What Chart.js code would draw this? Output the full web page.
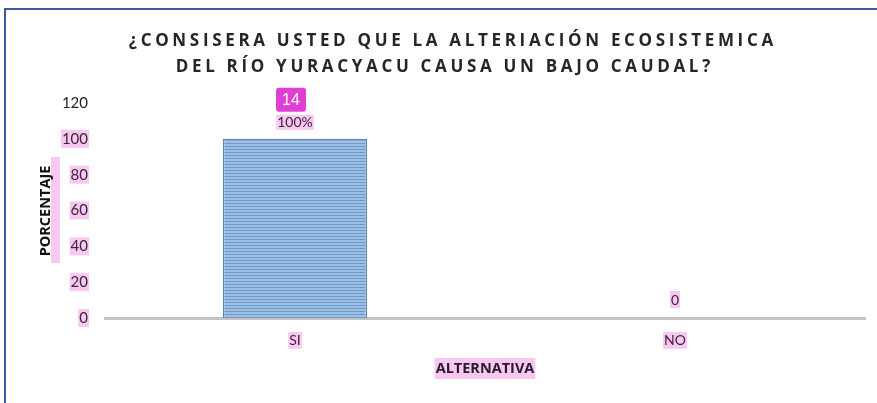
<!DOCTYPE html>
<html>
<head>
<meta charset="utf-8">
<script src="https://cdn.jsdelivr.net/npm/chart.js@4.4.0/dist/chart.umd.min.js"></script>
<style>
  html, body { margin: 0; padding: 0; background: #fff; }
  #wrap { width: 877px; height: 403px; }
</style>
</head>
<body>
<div id="wrap"><canvas id="grafico" width="877" height="403"></canvas></div>
<script>
// dati
const categorie = ["SI", "NO"];
const porcentajes = [100, 0];
const frecuencias = [14, 0];
const tickY = [0, 20, 40, 60, 80, 100, 120];

const titoloRighe = ["¿CONSISERA USTED QUE LA ALTERIACIÓN ECOSISTEMICA", "DEL RÍO YURACYACU CAUSA UN BAJO CAUDAL?"];
const titoloY = "PORCENTAJE";
const titoloX = "ALTERNATIVA";

const rosa = "#f8c8f1";
const viola = "#3e2340";

function rigaPattern(){
    let c = document.createElement("canvas");
    c.width = 4; c.height = 3;
    let g = c.getContext("2d");
    g.fillStyle = "#9cc0e4";
    g.fillRect(0, 0, 4, 3);
    g.fillStyle = "#6f98c8";
    g.fillRect(0, 2, 4, 1);
    return g.createPattern(c, "repeat");
}

function evidenzia(ctx, x, y, w, h){
    ctx.fillStyle = rosa;
    ctx.fillRect(x, y, w, h);
}

const decorazioni = {
    id: "decorazioni",
    beforeDraw(chart){
        let ctx = chart.ctx;
        ctx.save();
        // cornice
        ctx.fillStyle = "#3b5b9c";
        ctx.fillRect(4, 8, 2, 395);
        ctx.fillRect(4, 8, 873, 2);
        ctx.restore();
    },
    afterDraw(chart){
        let ctx = chart.ctx;
        let area = chart.chartArea;
        ctx.save();

        // titolo spaziato
        ctx.fillStyle = "#262626";
        ctx.font = "bold 17px 'Open Sans'";
        ctx.textAlign = "center";
        ctx.textBaseline = "middle";
        let larghezza = 648;
        ctx.letterSpacing = "0px";
        let w0 = ctx.measureText(titoloRighe[0]).width;
        let sp = (larghezza - w0) / titoloRighe[0].length;
        ctx.letterSpacing = sp + "px";
        ctx.fillText(titoloRighe[0], 451 + sp / 2, 41);
        ctx.fillText(titoloRighe[1], 443 + sp / 2, 67);
        ctx.letterSpacing = "0px";

        // titolo asse Y
        evidenzia(ctx, 51, 157, 9, 106);
        ctx.save();
        ctx.translate(46, 211);
        ctx.rotate(-Math.PI / 2);
        ctx.fillStyle = "#111";
        ctx.font = "bold 14.5px 'Open Sans'";
        ctx.fillText(titoloY, 0, 0);
        ctx.restore();

        // titolo asse X
        ctx.font = "bold 14.5px 'Open Sans'";
        let cx = (area.left + area.right) / 2;
        let wx = ctx.measureText(titoloX).width;
        evidenzia(ctx, cx - wx / 2 - 1, 358, wx + 2, 21);
        ctx.fillStyle = "#2a1a2c";
        ctx.fillText(titoloX, cx, 369);

        // etichette dati
        let meta = chart.getDatasetMeta(0);
        meta.data.forEach(function(barra, i){
            ctx.font = "14px Lato";
            if(porcentajes[i] > 0){
                let testo = porcentajes[i] + "%";
                let wt = ctx.measureText(testo).width;
                evidenzia(ctx, barra.x - wt / 2 - 1, barra.y - 24, wt + 2, 15);
                ctx.fillStyle = viola;
                ctx.fillText(testo, barra.x, barra.y - 16);

                // riquadro frequenza
                let bx = barra.x - 4;
                let by = barra.y - 39;
                ctx.fillStyle = "#e03fd6";
                ctx.beginPath();
                ctx.roundRect(bx - 15, by - 12, 30, 24, 3);
                ctx.fill();
                ctx.fillStyle = "#fff";
                ctx.font = "16px 'Liberation Sans'";
                ctx.fillText(String(frecuencias[i]), bx, by + 1);
            } else {
                let testo = String(porcentajes[i]);
                let wt = ctx.measureText(testo).width;
                evidenzia(ctx, barra.x - wt / 2 - 1, barra.y - 27, wt + 2, 17);
                ctx.fillStyle = viola;
                ctx.fillText(testo, barra.x, barra.y - 18);
            }
        });
        ctx.restore();
    }
};

let ctxGrafico = document.getElementById("grafico").getContext("2d");

let grafico = new Chart(ctxGrafico, {
    type: "bar",
    data: {
        labels: categorie,
        datasets: [{
            label: titoloY,
            data: porcentajes,
            backgroundColor: rigaPattern(),
            borderColor: "#5f84b5",
            borderWidth: 1.5,
            barPercentage: 0.38,
            categoryPercentage: 1
        }]
    },
    options: {
        responsive: false,
        animation: false,
        layout: { padding: { left: 45, right: 12, top: 103, bottom: 45 } },
        plugins: {
            legend: { display: false },
            tooltip: { enabled: false }
        },
        scales: {
            x: {
                grid: { display: false, drawTicks: false },
                border: { display: true, color: "#c4c4c4", width: 3 },
                ticks: {
                    color: viola,
                    font: { family: "Lato", size: 14 },
                    padding: 14,
                    showLabelBackdrop: true,
                    backdropColor: rosa,
                    backdropPadding: { left: 1, right: 1, top: 0, bottom: 0 }
                },
                afterFit(scale){ scale.height = 40; }
            },
            y: {
                min: 0,
                max: 120,
                afterBuildTicks(scale){ scale.ticks = tickY.map(v => ({ value: v })); },
                grid: { display: false, drawTicks: false },
                border: { display: false },
                ticks: {
                    color: function(c){ return c.tick && c.tick.value === 120 ? "#222" : viola; },
                    font: { family: "Lato", size: 15 },
                    padding: 17,
                    showLabelBackdrop: true,
                    backdropColor: function(c){ return c.tick && c.tick.value === 120 ? "rgba(0,0,0,0)" : rosa; },
                    backdropPadding: { left: 1, right: 1, top: 0, bottom: 0 }
                },
                afterFit(scale){ scale.width = 60; }
            }
        }
    },
    plugins: [decorazioni]
});
</script>
</body>
</html>
